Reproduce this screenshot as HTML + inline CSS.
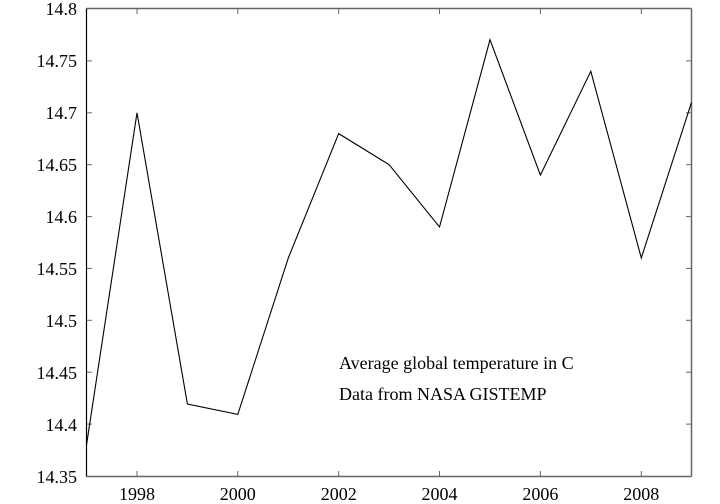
<!DOCTYPE html>
<html><head><style>body{margin:0;background:#fff}svg{display:block}text{font-family:"Liberation Serif",serif;font-size:18px;fill:#000}</style></head><body>
<svg width="720" height="504" viewBox="0 0 720 504">
<g stroke="#666" stroke-width="1.5">
<line x1="86.5" y1="476.5" x2="691.5" y2="476.5"/>
<line x1="86.5" y1="8.5" x2="691.5" y2="8.5"/>
<line x1="691.5" y1="8.5" x2="691.5" y2="476.5"/>
</g>
<line x1="86.5" y1="8.5" x2="86.5" y2="476.5" stroke="#000" stroke-width="1.2"/>
<g stroke="#666" stroke-width="1">
<line x1="137" y1="476" x2="137" y2="471"/><line x1="137" y1="9" x2="137" y2="14"/>
<line x1="237.8" y1="476" x2="237.8" y2="471"/><line x1="237.8" y1="9" x2="237.8" y2="14"/>
<line x1="338.7" y1="476" x2="338.7" y2="471"/><line x1="338.7" y1="9" x2="338.7" y2="14"/>
<line x1="439.5" y1="476" x2="439.5" y2="471"/><line x1="439.5" y1="9" x2="439.5" y2="14"/>
<line x1="540.4" y1="476" x2="540.4" y2="471"/><line x1="540.4" y1="9" x2="540.4" y2="14"/>
<line x1="641.3" y1="476" x2="641.3" y2="471"/><line x1="641.3" y1="9" x2="641.3" y2="14"/>
<line x1="87" y1="60.9" x2="92" y2="60.9"/><line x1="691" y1="60.9" x2="686" y2="60.9"/>
<line x1="87" y1="112.8" x2="92" y2="112.8"/><line x1="691" y1="112.8" x2="686" y2="112.8"/>
<line x1="87" y1="164.7" x2="92" y2="164.7"/><line x1="691" y1="164.7" x2="686" y2="164.7"/>
<line x1="87" y1="216.6" x2="92" y2="216.6"/><line x1="691" y1="216.6" x2="686" y2="216.6"/>
<line x1="87" y1="268.4" x2="92" y2="268.4"/><line x1="691" y1="268.4" x2="686" y2="268.4"/>
<line x1="87" y1="320.3" x2="92" y2="320.3"/><line x1="691" y1="320.3" x2="686" y2="320.3"/>
<line x1="87" y1="372.2" x2="92" y2="372.2"/><line x1="691" y1="372.2" x2="686" y2="372.2"/>
<line x1="87" y1="424.1" x2="92" y2="424.1"/><line x1="691" y1="424.1" x2="686" y2="424.1"/>
</g>
<g text-anchor="end">
<text x="77" y="15">14.8</text><text x="77" y="67">14.75</text><text x="77" y="119">14.7</text>
<text x="77" y="171">14.65</text><text x="77" y="223">14.6</text><text x="77" y="275">14.55</text>
<text x="77" y="327">14.5</text><text x="77" y="379">14.45</text><text x="77" y="431">14.4</text>
<text x="77" y="483">14.35</text>
</g>
<g text-anchor="middle">
<text x="137" y="500">1998</text><text x="237.8" y="500">2000</text><text x="338.7" y="500">2002</text>
<text x="439.5" y="500">2004</text><text x="540.4" y="500">2006</text><text x="641.3" y="500">2008</text>
</g>
<polyline fill="none" stroke="#000" stroke-width="1.1" points="86.5,445 137,112.8 187.4,404 237.8,414.4 288.3,258 338.7,133.6 389.1,164.7 439.5,227 490,39.7 540.4,175.1 590.8,71.3 641.3,258 691.5,102.4"/>
<text x="339" y="369">Average global temperature in C</text>
<text x="339" y="400">Data from NASA GISTEMP</text>
</svg>
</body></html>
